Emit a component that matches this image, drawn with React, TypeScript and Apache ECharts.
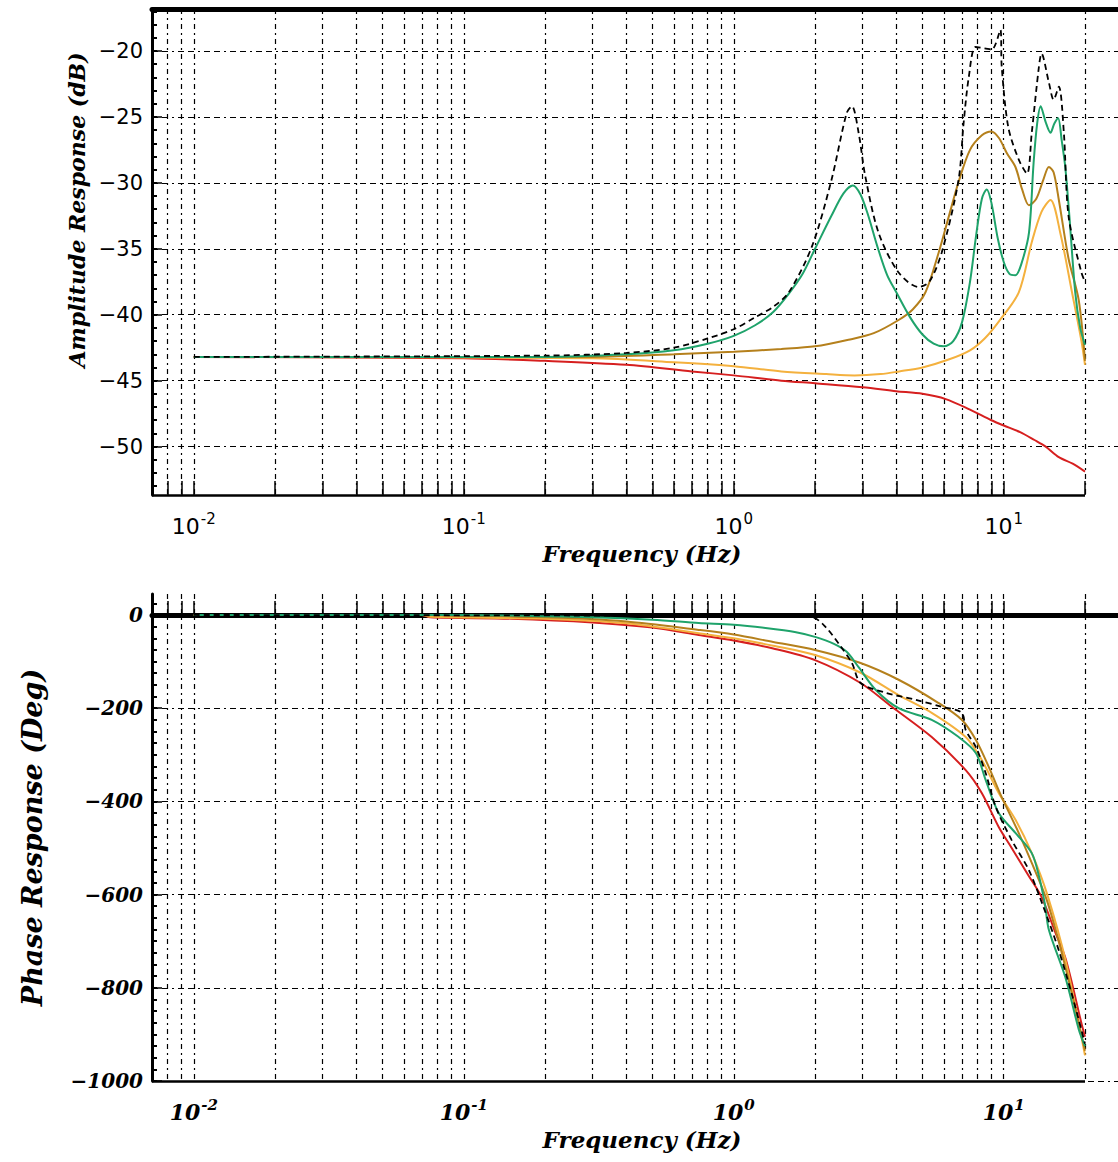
import React, { useEffect, useRef } from "react";
import * as echarts from "echarts";

// ---------- data ----------
const freqTickValues = [
  0.008, 0.009, 0.01, 0.02, 0.03, 0.04, 0.05, 0.06, 0.07, 0.08, 0.09, 0.1,
  0.2, 0.3, 0.4, 0.5, 0.6, 0.7, 0.8, 0.9, 1, 2, 3, 4, 5, 6, 7, 8, 9, 10, 20,
];
const freqLabelValues = [0.01, 0.1, 1, 10];
const ampTickValues = [-50, -45, -40, -35, -30, -25, -20];
const phaseTickValues = [-1000, -800, -600, -400, -200, 0];
const ampMinorValues = [
  -53, -52, -51, -50, -49, -48, -47, -46, -45, -44, -43, -42, -41, -40, -39, -38, -37, -36,
  -35, -34, -33, -32, -31, -30, -29, -28, -27, -26, -25, -24, -23, -22, -21, -20, -19, -18, -17,
];
const phaseMinorValues = [
  -1000, -975, -950, -925, -900, -875, -850, -825, -800, -775, -750, -725, -700, -675, -650,
  -625, -600, -575, -550, -525, -500, -475, -450, -425, -400, -375, -350, -325, -300, -275,
  -250, -225, -200, -175, -150, -125, -100, -75, -50, -25, 0, 25,
];

const ampRed: [number, number][] = [
  [0.01, -43.2], [0.1, -43.3], [0.2, -43.5], [0.4, -43.8], [0.7, -44.3], [1.0, -44.6],
  [1.5, -45.0], [2.0, -45.2], [3.0, -45.5], [4.0, -45.8], [5.0, -46.0], [6.1, -46.4],
  [7.5, -47.2], [9.0, -48.0], [10.0, -48.4], [11.5, -48.9], [13.0, -49.5], [14.3, -50.0],
  [16.0, -50.8], [18.0, -51.3], [20, -51.9],
];
const ampLightOrange: [number, number][] = [
  [0.01, -43.2], [0.3, -43.3], [0.6, -43.6], [1.0, -43.9], [1.5, -44.3], [2.2, -44.5],
  [2.8, -44.6], [3.5, -44.5], [4.1, -44.3], [5.0, -44.0], [6.25, -43.4], [7.5, -42.7],
  [8.5, -41.8], [9.6, -40.5], [11.37, -38.3], [12.7, -34.5], [13.8, -32.2], [14.9, -31.3],
  [16.2, -33.8], [17.9, -38.3], [19.4, -42.0], [20, -43.8],
];
const ampBrown: [number, number][] = [
  [0.01, -43.2], [0.3, -43.2], [0.6, -43.0], [1.0, -42.8], [1.5, -42.6], [2.0, -42.4],
  [2.66, -41.9], [3.3, -41.4], [4.08, -40.4], [4.6, -39.6], [5.13, -38.3], [5.74, -35.3],
  [6.25, -32.6], [6.81, -29.9], [7.5, -27.5], [8.3, -26.4], [9.0, -26.1], [9.6, -26.6],
  [10.3, -27.8], [11.05, -28.8], [11.7, -30.5], [12.4, -31.7], [13.2, -31.2], [14.0, -29.8],
  [14.7, -28.8], [15.3, -29.2], [16.0, -31.3], [17.4, -35.8], [18.96, -38.9], [20, -43.5],
];
const ampGreen: [number, number][] = [
  [0.01, -43.2], [0.2, -43.2], [0.4, -43.0], [0.6, -42.7], [0.8, -42.2], [1.0, -41.6],
  [1.2, -40.8], [1.4, -39.8], [1.6, -38.4], [1.8, -36.9], [2.0, -35.0], [2.3, -32.5],
  [2.55, -30.8], [2.76, -30.2], [2.95, -30.9], [3.15, -32.5], [3.4, -34.8], [3.7, -37.0],
  [4.0, -38.3], [4.5, -40.2], [5.0, -41.5], [5.5, -42.2], [6.0, -42.4], [6.5, -42.0],
  [7.0, -40.6], [7.5, -37.5], [7.9, -34.0], [8.3, -31.2], [8.65, -30.5], [9.0, -31.5],
  [9.5, -34.2], [10.0, -36.0], [10.5, -36.9], [11.05, -37.0], [11.6, -36.2], [12.4, -33.8],
  [12.9, -28.5], [13.3, -25.5], [13.7, -24.2], [14.3, -25.4], [14.9, -26.2], [15.4, -25.5],
  [15.9, -25.1], [16.4, -26.8], [16.9, -28.8], [17.5, -32.5], [18.4, -38.3], [19.2, -41.0],
  [20, -42.3],
];
const ampDashed: [number, number][] = [
  [0.01, -43.2], [0.2, -43.1], [0.4, -42.9], [0.6, -42.5], [0.8, -41.8], [1.0, -41.1],
  [1.2, -40.2], [1.4, -39.4], [1.6, -38.3], [1.95, -34.8], [2.3, -29.8], [2.62, -24.7],
  [2.74, -24.2], [2.9, -26.2], [3.07, -29.5], [3.44, -33.8], [4.08, -36.8], [4.84, -37.9],
  [5.3, -37.5], [5.89, -35.3], [6.8, -29.8], [7.1, -25.5], [7.42, -22.0], [7.86, -19.7],
  [8.5, -19.8], [9.03, -19.9], [9.72, -18.4], [9.83, -21.2], [10.4, -25.8], [11.4, -28.3],
  [12.2, -29.3], [12.7, -26.2], [13.5, -21.2], [13.8, -20.2], [14.7, -22.4], [15.3, -23.7],
  [16.0, -22.7], [16.7, -26.2], [17.4, -32.6], [19.4, -36.8], [20, -37.5],
];

const phaseRed: [number, number][] = [
  [0.01, 0], [0.07, 0], [0.075, -5], [0.15, -8], [0.3, -16], [0.5, -27], [0.742, -43],
  [1.0, -55], [1.4, -72], [2.0, -97], [2.95, -146], [3.85, -197], [5.41, -262], [7.23, -333],
  [8.29, -382], [9.58, -455], [10.7, -500], [12.38, -560], [13.8, -605], [15.5, -680],
  [17, -740], [19.4, -876], [20, -905],
];
const phaseLightOrange: [number, number][] = [
  [0.01, 0], [0.07, 0], [0.075, -4], [0.2, -8], [0.4, -18], [0.742, -39], [1.0, -50],
  [1.4, -66], [2.0, -86], [2.95, -124], [4.08, -172], [5.41, -210], [7.23, -262], [8.29, -311],
  [9.58, -382], [11.07, -440], [12.7, -511], [14.5, -600], [17, -745], [20, -945],
];
const phaseBrown: [number, number][] = [
  [0.01, 0], [0.07, 0], [0.2, -5], [0.4, -14], [0.742, -32], [1.0, -42], [1.4, -58],
  [2.0, -75], [2.95, -103], [4.08, -139], [5.74, -189], [6.99, -225], [7.88, -268],
  [8.8, -326], [9.83, -391], [11.37, -468], [12.7, -532], [14.5, -615], [17, -760], [20, -935],
];
const phaseGreen: [number, number][] = [
  [0.01, 0], [0.1, 0], [0.3, -5], [0.5, -10], [0.742, -17], [1.0, -21], [1.31, -28],
  [1.7, -37], [2.0, -47], [2.35, -62], [2.62, -79], [2.9, -112], [3.36, -161], [4.08, -200],
  [5.41, -225], [6.81, -262], [7.88, -296], [8.57, -354], [9.58, -425], [11.07, -468],
  [12.7, -511], [13.5, -560], [14.2, -620], [14.7, -676], [16.9, -777], [19, -891], [20, -925],
];
const phaseDashed: [number, number][] = [
  [0.01, 0], [1.0, -2], [1.95, -5], [2.19, -26], [2.5, -69], [2.74, -103], [2.95, -146],
  [3.66, -167], [4.72, -182], [5.89, -197], [6.99, -210], [7.23, -247], [7.88, -283],
  [8.57, -339], [9.34, -412], [10.7, -483], [12.38, -547], [14, -625], [16, -720], [18, -820],
  [20, -920],
];

// ---------- styling ----------
const X_MIN = 0.007;
const X_MAX = 26.5;
const X_LINE_END = 20;
const AMP_MIN = -53.67;
const AMP_MAX = -16.82;
const PH_MIN = -1000;
const PH_MAX = 45;

const C_RED = "#d61f1f";
const C_LORANGE = "#f4b13e";
const C_BROWN = "#b5801c";
const C_GREEN = "#1fa36b";

const vGrid = { color: "#000", width: 1.2, type: [5, 4, 2, 4] as number[] };
const hGrid = { color: "#000", width: 1.2, type: [6, 4, 6, 4, 2, 4] as number[] };

const minus = (v: number) => (v < 0 ? "\u2212" + Math.abs(v) : String(v));

function xAxes(gridIndex: number, italic: boolean, name: string) {
  const family = italic ? "DejaVu Serif" : "DejaVu Sans";
  const style = italic ? "italic" : "normal";
  const weight = italic ? "bold" : "normal";
  return [
    {
      type: "log",
      gridIndex,
      min: X_MIN,
      max: X_MAX,
      position: "bottom",
      axisLine: { show: false },
      axisTick: {
        show: true,
        inside: true,
        length: 14,
        customValues: freqTickValues,
        lineStyle: { color: "#000", width: 1.5 },
      },
      axisLabel: {
        show: true,
        customValues: freqLabelValues,
        margin: 16,
        formatter: (v: number) => `{b|10}{s|${Math.round(Math.log10(v))}}`,
        rich: {
          b: { fontFamily: family, fontStyle: style, fontWeight: weight, fontSize: 22, color: "#000", verticalAlign: "bottom" },
          s: { fontFamily: family, fontStyle: style, fontWeight: weight, fontSize: 15, color: "#000", verticalAlign: "bottom", padding: [0, 0, 11, 1] },
        },
      },
      splitLine: { show: true, lineStyle: vGrid },
      name,
      nameLocation: "middle",
      nameGap: 47,
      nameTextStyle: {
        fontFamily: "DejaVu Serif",
        fontStyle: "italic",
        fontWeight: "bold",
        fontSize: 23,
        color: "#000",
        padding: [0, 0, 0, 14],
      },
    },
    {
      type: "log",
      gridIndex,
      min: X_MIN,
      max: X_MAX,
      position: "top",
      axisLine: { show: true, lineStyle: { color: "#000", width: 5 } },
      axisTick: { show: false },
      axisLabel: { show: false },
      splitLine: { show: false },
    },
  ];
}

function yAxes(
  gridIndex: number,
  min: number,
  max: number,
  ticks: number[],
  minor: number[],
  italic: boolean,
  name: string,
  nameGap: number,
  nameSize: number,
  namePadLeft: number
) {
  return [
    {
      type: "value",
      gridIndex,
      min,
      max,
      position: "left",
      axisLine: { show: true, lineStyle: { color: "#000", width: 3 } },
      axisTick: { show: true, inside: true, length: 10, customValues: ticks, lineStyle: { color: "#000", width: 1.5 } },
      axisLabel: {
        show: true,
        customValues: ticks,
        margin: 9,
        formatter: minus,
        fontFamily: italic ? "DejaVu Serif" : "DejaVu Sans",
        fontStyle: italic ? "italic" : "normal",
        fontWeight: italic ? "bold" : "normal",
        fontSize: italic ? 20 : 21,
        color: "#000",
      },
      splitLine: { show: true, lineStyle: hGrid },
      name,
      nameLocation: "middle",
      nameGap,
      nameTextStyle: {
        fontFamily: "DejaVu Serif",
        fontStyle: "italic",
        fontWeight: "bold",
        fontSize: nameSize,
        color: "#000",
        padding: [0, 0, 0, namePadLeft],
      },
    },
    {
      type: "value",
      gridIndex,
      min,
      max,
      position: "left",
      offset: 0,
      axisLine: { show: false },
      axisTick: { show: true, inside: true, length: 5, customValues: minor, lineStyle: { color: "#000", width: 2 } },
      axisLabel: { show: false },
      splitLine: { show: false },
    },
  ];
}

function lineSeries(
  data: [number, number][],
  color: string,
  xAxisIndex: number,
  yAxisIndex: number,
  dashed: boolean,
  z: number
) {
  return {
    type: "line",
    data,
    xAxisIndex,
    yAxisIndex,
    showSymbol: false,
    symbol: "none",
    smooth: 0.3,
    z,
    lineStyle: dashed
      ? { color: "#000", width: 1.8, type: [6, 4] }
      : { color, width: 2 },
  };
}

function axisBottomLine(xAxisIndex: number, yAxisIndex: number, y: number) {
  return {
    type: "line",
    data: [],
    xAxisIndex,
    yAxisIndex,
    silent: true,
    markLine: {
      silent: true,
      symbol: "none",
      label: { show: false },
      lineStyle: { color: "#000", width: 2.5, type: "solid" },
      data: [[{ coord: [X_MIN, y] }, { coord: [X_LINE_END, y] }]],
    },
  };
}

export default function App() {
  const ref = useRef<HTMLDivElement>(null);

  useEffect(() => {
    if (!ref.current) return;
    const chart = echarts.init(ref.current, undefined, { renderer: "svg" });
    const option: any = {
      animation: false,
      backgroundColor: "#fff",
      grid: [
        { left: 152, top: 9, right: 0, height: 486, outerBoundsMode: "none" },
        { left: 152, top: 594, right: 0, height: 487, outerBoundsMode: "none" },
      ],
      xAxis: [...xAxes(0, false, "Frequency (Hz)"), ...xAxes(1, true, "Frequency (Hz)")],
      yAxis: [
        ...yAxes(0, AMP_MIN, AMP_MAX, ampTickValues, ampMinorValues, false, "Amplitude Response (dB)", 64, 22, 84),
        ...yAxes(1, PH_MIN, PH_MAX, phaseTickValues, phaseMinorValues, true, "Phase Response (Deg)", 106, 27, 0),
      ],
      series: [
        lineSeries(ampRed, C_RED, 0, 0, false, 3),
        lineSeries(ampLightOrange, C_LORANGE, 0, 0, false, 3),
        lineSeries(ampBrown, C_BROWN, 0, 0, false, 3),
        lineSeries(ampGreen, C_GREEN, 0, 0, false, 3),
        lineSeries(ampDashed, "#000", 0, 0, true, 4),
        axisBottomLine(0, 0, AMP_MIN),
        lineSeries(phaseRed, C_RED, 2, 2, false, 3),
        lineSeries(phaseLightOrange, C_LORANGE, 2, 2, false, 3),
        lineSeries(phaseBrown, C_BROWN, 2, 2, false, 3),
        lineSeries(phaseGreen, C_GREEN, 2, 2, false, 3),
        lineSeries(phaseDashed, "#000", 2, 2, true, 4),
        axisBottomLine(2, 2, PH_MIN),
      ],
    };
    chart.setOption(option);
    return () => chart.dispose();
  }, []);

  return (
    <div
      style={{ position: "absolute", left: 0, top: 0, width: 1118, height: 1162, overflow: "hidden", background: "#fff" }}
    >
      <div ref={ref} style={{ width: 1118, height: 1162 }} />
    </div>
  );
}
